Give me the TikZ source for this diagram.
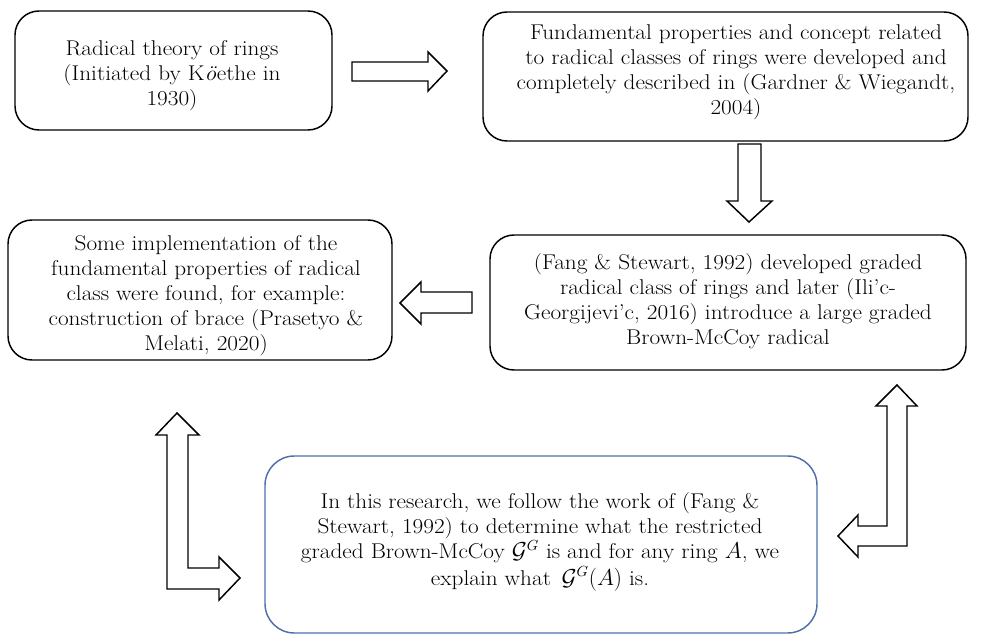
\documentclass[tikz,border=0pt]{standalone}
\usepackage{fontspec}
\setmainfont{Latin Modern Roman}[FakeStretch=1.09]
\usetikzlibrary{fit}
\definecolor{boxblue}{RGB}{79,113,170}
\begin{document}
\begin{tikzpicture}[x=0.75pt,y=-0.75pt,
  boxstyle/.style={draw=black, line width=1.1pt, rounded corners=18pt, inner sep=0pt},
  bluebox/.style={draw=boxblue, line width=1.1pt, rounded corners=22pt, inner sep=0pt},
  txt/.style={align=center, inner sep=0pt, font=\fontsize{16pt}{18.75pt}\selectfont},
  blockarrow/.style={draw=black, line width=1.1pt, fill=white, line join=miter}]
\useasboundingbox (0,0) rectangle (984,635);

% boxes
\node (b1) [boxstyle, fit={(15,11) (332,130)}] {};
\node (b2) [boxstyle, fit={(483,12) (968,141)}] {};
\node (b3) [boxstyle, fit={(8,220) (392,360)}] {};
\node (b4) [boxstyle, fit={(490,235) (966,370)}] {};
\node (b5) [bluebox, fit={(265,456) (817,633)}] {};

% texts
\node (t1) [txt] at (172,76) {Radical theory of rings\\(Initiated by K\textit{ö}ethe in\\1930)};
\node (t2) [txt] at (736,72) {Fundamental properties and concept related\\to radical classes of rings were developed and\\completely described in (Gardner \& Wiegandt,\\2004)};
\node (t3) [txt] at (206,296) {Some implementation of the\\fundamental properties of radical\\class were found, for example:\\construction of brace (Prasetyo \&\\Melati, 2020)};
\node (t4) [txt] at (728,301) {(Fang \& Stewart, 1992) developed graded\\radical class of rings and later (Ili'c-\\Georgijevi'c, 2016) introduce a large graded\\Brown-McCoy radical};
\node (t5) [txt] at (540,542) {In this research, we follow the work of (Fang \&\\Stewart, 1992) to determine what the restricted\\graded Brown-McCoy $\mathcal{G}^{G}$ is and for any ring $A$, we\\[1pt]explain what \,$\mathcal{G}^{G}(A)$ is.};

% block arrows
\draw[blockarrow] (352,62) -- (428,62) -- (428,52) -- (447,71) -- (428,91) -- (428,81) -- (352,81) -- cycle;
\draw[blockarrow] (738,144) -- (761,144) -- (761,201) -- (772,201) -- (749,222) -- (727,201) -- (738,201) -- cycle;
\draw[blockarrow] (472,292) -- (421,292) -- (421,282) -- (400,303) -- (421,324) -- (421,313) -- (472,313) -- cycle;
\draw[blockarrow] (177,413) -- (199,435) -- (188,435) -- (188,568) -- (219,568) -- (219,557) -- (240,578) -- (219,600) -- (219,589) -- (167,589) -- (167,435) -- (156,435) -- cycle;
\draw[blockarrow] (897,385) -- (917,406) -- (907,406) -- (907,546) -- (858,546) -- (858,557) -- (838,536) -- (858,515) -- (858,526) -- (887,526) -- (887,406) -- (876,406) -- cycle;
\end{tikzpicture}
\end{document}
